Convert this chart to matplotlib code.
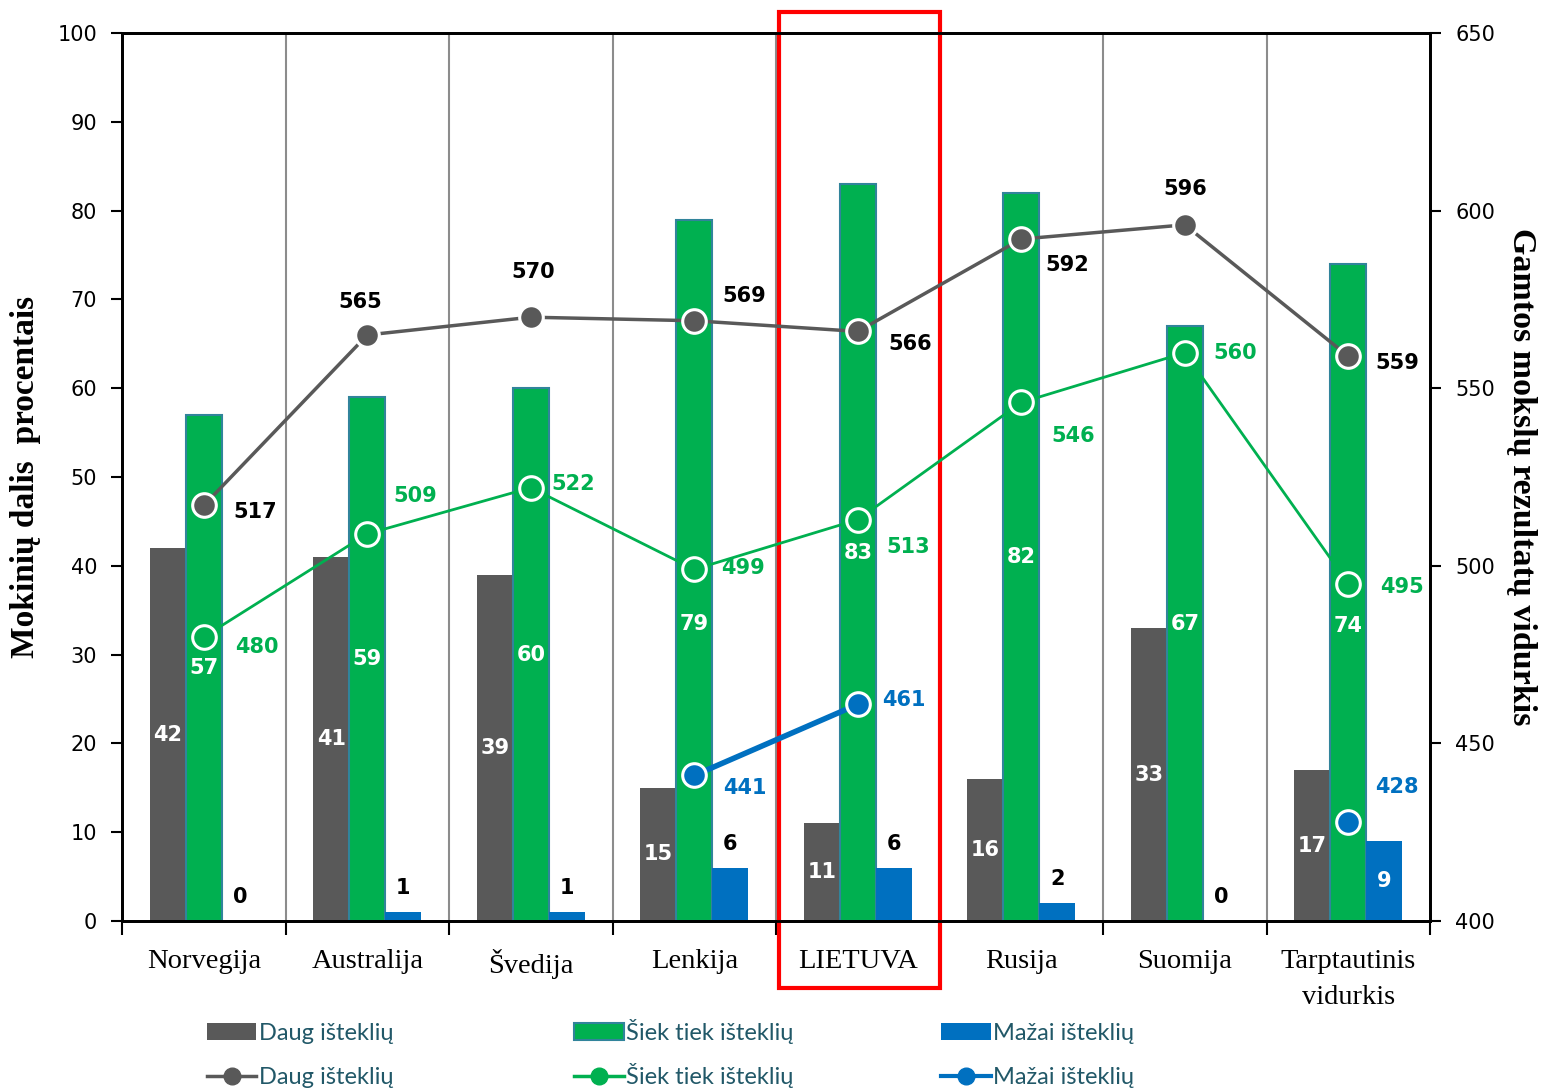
import matplotlib
matplotlib.use("Agg")
import matplotlib.pyplot as plt
import numpy as np
from matplotlib.patches import Patch, Rectangle
from matplotlib.lines import Line2D
import matplotlib.transforms as mtransforms

# duomenys
salys = ["Norvegija", "Australija", "Švedija", "Lenkija", "LIETUVA", "Rusija", "Suomija", "Tarptautinis\nvidurkis"]
daug_proc = [42, 41, 39, 15, 11, 16, 33, 17]
siek_proc = [57, 59, 60, 79, 83, 82, 67, 74]
mazai_proc = [0, 1, 1, 6, 6, 2, 0, 9]
daug_rez = [517, 565, 570, 569, 566, 592, 596, 559]
siek_rez = [480, 509, 522, 499, 513, 546, 560, 495]
mazai_rez = [np.nan, np.nan, np.nan, 441, 461, np.nan, np.nan, 428]

# spalvos
c_gray = "#595959"
c_green = "#00B050"
c_blue = "#0070C0"
c_edge = "#31849B"
c_leg = "#215868"

# etikeciu poslinkiai (pikseliais)
off_daug = [(51, -7), (-7, 33), (2, 45), (50, 25), (52, -13), (46, -26), (0, 36), (49, -7)]
off_siek = [(53, -10), (48, 38), (42, 4), (49, 1), (50, -27), (52, -34), (50, 0), (54, -3)]
off_mazai = [None, None, None, (51, -13), (46, 4), None, None, (49, 35)]
# zaliu stulpeliu etiketes, perkeltos zemyn (kad nesidengtu su tasku)
siek_lab_y = {3: 33.4, 7: 33.2}

fig = plt.figure(figsize=(15.43, 10.90), dpi=100)
ax = fig.add_axes([0.0791, 0.155, 0.8477, 0.8147])
ax2 = ax.twinx()

x = np.arange(len(salys))
w = 0.22
ax.bar(x - w, daug_proc, w, color=c_gray, zorder=2)
ax.bar(x, siek_proc, w, color=c_green, edgecolor=c_edge, linewidth=1.5, zorder=2)
ax.bar(x + w, mazai_proc, w, color=c_blue, zorder=2)

lab_font = dict(fontsize=15, fontweight="bold", family="DejaVu Sans")
for i in range(len(x)):
    ax.text(x[i] - w, daug_proc[i] / 2, str(daug_proc[i]), color="white", ha="center", va="center", **lab_font)
    ax.text(x[i], siek_lab_y.get(i, siek_proc[i] / 2), str(siek_proc[i]), color="white",
            ha="center", va="center", **lab_font)
    if mazai_proc[i] >= 9:
        ax.text(x[i] + w, mazai_proc[i] / 2, str(mazai_proc[i]), color="white", ha="center", va="center", **lab_font)
    else:
        ax.text(x[i] + w, mazai_proc[i] + 2.7, str(mazai_proc[i]), color="black", ha="center", va="center", **lab_font)

ax.set_xlim(-0.5, len(salys) - 0.5)
ax.set_ylim(0, 100)
ax.set_yticks(np.arange(0, 101, 10))
ax2.set_ylim(400, 650)
ax2.set_yticks(np.arange(400, 651, 50))

# vertikalios linijos tarp saliu
for b in np.arange(0.5, len(salys) - 1, 1):
    ax.axvline(b, color="#8C8C8C", lw=1.5, zorder=1)

mk = dict(marker="o", markersize=17, markeredgecolor="white", markeredgewidth=2.2)
ax2.plot(x, daug_rez, color=c_gray, lw=2.5, markerfacecolor=c_gray, zorder=4, **mk)
ax2.plot(x, siek_rez, color=c_green, lw=2.0, markerfacecolor=c_green, zorder=4, **mk)
ax2.plot(x, mazai_rez, color=c_blue, lw=4, markerfacecolor=c_blue, zorder=4, **mk)

for vals, offs, col in [(daug_rez, off_daug, "black"), (siek_rez, off_siek, c_green), (mazai_rez, off_mazai, c_blue)]:
    for i, v in enumerate(vals):
        if offs[i] is None or np.isnan(v):
            continue
        ax2.annotate(str(int(v)), (x[i], v), xytext=offs[i], textcoords="offset pixels",
                     ha="center", va="center", color=col, zorder=5, **lab_font)

# asys
ax.set_xticks(np.arange(-0.5, len(salys), 1))
ax.set_xticklabels([])
ax.set_xticks(x, minor=True)
ax.set_xticklabels(salys, minor=True, family="Liberation Serif", fontsize=20.5, linespacing=1.6)
ax.tick_params(axis="x", which="major", direction="out", length=10, width=1.5)
ax.tick_params(axis="x", which="minor", length=0, pad=20)
ax.tick_params(axis="y", direction="out", length=8, width=1.5, labelsize=15, pad=10)
ax2.tick_params(axis="y", direction="out", length=8, width=1.5, labelsize=15, pad=10)
for a in (ax, ax2):
    for s in a.spines.values():
        s.set_linewidth(2)

ax.set_ylabel("Mokinių dalis  procentais", family="Liberation Serif", fontweight="bold", fontsize=24, labelpad=12)
ax2.set_ylabel("Gamtos mokslų rezultatų vidurkis", family="Liberation Serif", fontweight="bold",
               fontsize=24.5, rotation=270, labelpad=30)

# raudonas remelis aplink Lietuva
trans = mtransforms.blended_transform_factory(ax.transData, ax.transAxes)
rect = Rectangle((4 - 0.483, -0.0755), 0.983, 1.099, transform=trans, fill=False,
                 edgecolor="red", lw=3, clip_on=False, zorder=10)
ax.add_patch(rect)

# legenda: kiekvienas irasas atskirai, kad eilutes butu lygios
leg_font = dict(family="Lato", size=17)
irasai = [
    (Patch(facecolor=c_gray), "Daug išteklių", 0.134, 0.0425),
    (Line2D([], [], color=c_gray, lw=2.5, marker="o", markersize=12), "Daug išteklių", 0.134, 0.0015),
    (Patch(facecolor=c_green, edgecolor=c_edge, lw=1.5), "Šiek tiek išteklių", 0.372, 0.0425),
    (Line2D([], [], color=c_green, lw=2.5, marker="o", markersize=12), "Šiek tiek išteklių", 0.372, 0.0015),
    (Patch(facecolor=c_blue), "Mažai išteklių", 0.610, 0.0425),
    (Line2D([], [], color=c_blue, lw=3, marker="o", markersize=12), "Mažai išteklių", 0.610, 0.0015),
]
for h, txt, xl, yl in irasai:
    lg = fig.legend([h], [txt], loc="lower left", bbox_to_anchor=(xl, yl),
                    frameon=False, prop=leg_font, handlelength=2.1, handleheight=0.75,
                    handletextpad=0.1, borderpad=0, borderaxespad=0)
    for t in lg.get_texts():
        t.set_color(c_leg)

fig.savefig("out.png", dpi=100)
